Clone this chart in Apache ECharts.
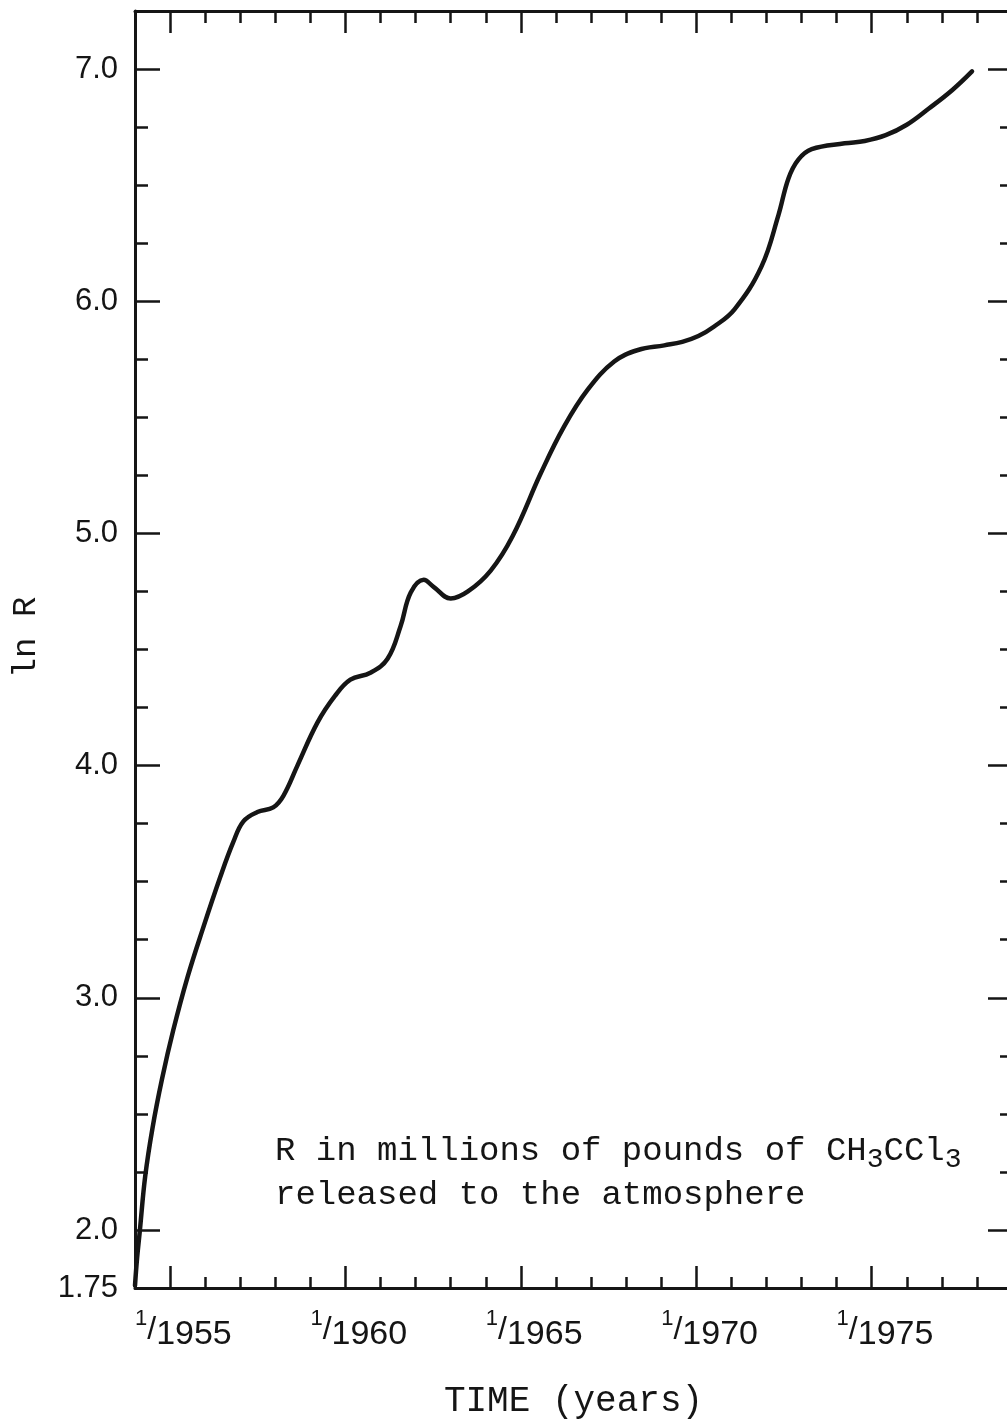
<!DOCTYPE html>
<html><head><meta charset="utf-8">
<script src="https://cdn.jsdelivr.net/npm/echarts@6/dist/echarts.min.js"></script>
<style>html,body{margin:0;padding:0;overflow:hidden;background:#fff}#c{width:1020px;height:1425px}</style>
</head><body><div id="c"></div>
<script>
const years = [1955.00,1955.06,1955.14,1955.29,1955.50,1955.77,1956.09,1956.50,1956.94,1957.43,1957.80,1958.09,1958.49,1958.94,1959.23,1959.63,1960.20,1960.70,1961.14,1961.71,1962.20,1962.57,1962.86,1963.23,1963.51,1964.00,1964.49,1965.14,1965.77,1966.57,1967.23,1967.91,1968.66,1969.34,1970.09,1970.60,1971.06,1971.50,1972.09,1972.86,1973.34,1973.63,1973.91,1974.29,1975.23,1975.80,1976.40,1977.00,1977.63,1978.30,1978.86];
const lnR = [1.76,1.88,2.00,2.23,2.44,2.65,2.86,3.09,3.30,3.52,3.67,3.76,3.80,3.82,3.87,4.00,4.185,4.30,4.37,4.40,4.46,4.60,4.745,4.80,4.77,4.72,4.75,4.84,4.99,5.26,5.46,5.62,5.74,5.79,5.81,5.825,5.85,5.89,5.965,6.15,6.37,6.53,6.61,6.655,6.68,6.69,6.715,6.76,6.83,6.91,6.99];
const xLabelYears = [1955,1960,1965,1970,1975];
const xLongTicks = [1956,1961,1966,1971,1976];
const yLabelValues = [1.75,2,3,4,5,6,7];
const yLongTicks = [2,3,4,5,6,7];
const xName = 'TIME (years)';
const yName = 'ln R';
const noteLine1 = 'R in millions of pounds of CH{s|3}CCl{s|3}';
const noteLine2 = 'released to the atmosphere';

const INK = '#151515';
const chart = echarts.init(document.getElementById('c'), null, {renderer: 'canvas'});
const X0 = 1955, X1 = 1980, Y0 = 1.75, Y1 = 7.25;
const baseX = {type: 'value', min: X0, max: X1, splitLine: {show: false}};
const baseY = {type: 'value', min: Y0, max: Y1, splitLine: {show: false}};
const line = {show: true, lineStyle: {color: INK, width: 3}};
const data = years.map((y, i) => [y, lnR[i]]);

chart.setOption({
  animation: false,
  backgroundColor: '#fff',
  grid: {left: 135, right: 8, top: 11, bottom: 137, containLabel: false},
  xAxis: [
    Object.assign({}, baseX, {
      position: 'bottom', axisLine: line,
      axisTick: {show: true, inside: true, length: 22, customValues: xLongTicks, lineStyle: {color: INK, width: 2.5}},
      axisLabel: {
        show: true, customValues: xLabelYears, align: 'left', margin: 20,
        formatter: v => '{a|1}{b|/}{c|' + v + '}',
        rich: {
          a: {fontSize: 22, fontFamily: 'Liberation Sans', color: INK, verticalAlign: 'top', lineHeight: 44},
          b: {fontSize: 32, fontFamily: 'Liberation Sans', color: INK, verticalAlign: 'middle', lineHeight: 44},
          c: {fontSize: 34, fontFamily: 'Liberation Sans', color: INK, verticalAlign: 'bottom', lineHeight: 44}
        }
      },
      name: xName, nameLocation: 'middle', nameGap: 95,
      nameTextStyle: {fontFamily: 'Liberation Mono', fontSize: 36, color: INK}
    }),
    Object.assign({}, baseX, {
      position: 'bottom', interval: 1, axisLine: {show: false},
      axisTick: {show: true, inside: true, length: 11, lineStyle: {color: INK, width: 2.5}},
      axisLabel: {show: false}
    }),
    Object.assign({}, baseX, {
      position: 'top', axisLine: line,
      axisTick: {show: true, inside: true, length: 22, customValues: xLongTicks, lineStyle: {color: INK, width: 2.5}},
      axisLabel: {show: false}
    }),
    Object.assign({}, baseX, {
      position: 'top', interval: 1, axisLine: {show: false},
      axisTick: {show: true, inside: true, length: 12, lineStyle: {color: INK, width: 2.5}},
      axisLabel: {show: false}
    })
  ],
  yAxis: [
    Object.assign({}, baseY, {
      position: 'left', axisLine: line,
      axisTick: {show: true, inside: true, length: 25, customValues: yLongTicks, lineStyle: {color: INK, width: 2.5}},
      axisLabel: {
        show: true, customValues: yLabelValues, margin: 17,
        fontFamily: 'Liberation Sans', fontSize: 31, color: INK,
        formatter: v => (Math.abs(v - 1.75) < 1e-6 ? '1.75' : v.toFixed(1))
      },
      name: yName, nameLocation: 'middle', nameGap: 92, nameRotate: 90,
      nameTextStyle: {fontFamily: 'Liberation Mono', fontSize: 34, color: INK, padding: [0, 0, 0, 24]}
    }),
    Object.assign({}, baseY, {
      position: 'left', interval: 0.25, axisLine: {show: false},
      axisTick: {show: true, inside: true, length: 13, lineStyle: {color: INK, width: 2.5}},
      axisLabel: {show: false}
    }),
    Object.assign({}, baseY, {
      position: 'right', axisLine: line,
      axisTick: {show: true, inside: true, length: 24, customValues: yLongTicks, lineStyle: {color: INK, width: 2.5}},
      axisLabel: {show: false}
    }),
    Object.assign({}, baseY, {
      position: 'right', interval: 0.25, axisLine: {show: false},
      axisTick: {show: true, inside: true, length: 12, lineStyle: {color: INK, width: 2.5}},
      axisLabel: {show: false}
    })
  ],
  series: [{
    type: 'line', xAxisIndex: 0, yAxisIndex: 0, data: data,
    smooth: 0.4, showSymbol: false, symbol: 'none',
    lineStyle: {color: INK, width: 4.5, cap: 'round', join: 'round'}, z: 5
  }],
  graphic: [
    {type: 'text', left: 275, top: 1134, style: {
      text: noteLine1, font: '34px "Liberation Mono"', fill: INK,
      rich: {s: {fontSize: 28, fontFamily: 'Liberation Mono', fill: INK, padding: [18, 0, 0, 0]}}
    }},
    {type: 'text', left: 275, top: 1178, style: {
      text: noteLine2, font: '34px "Liberation Mono"', fill: INK
    }}
  ]
});
</script>
</body></html>
